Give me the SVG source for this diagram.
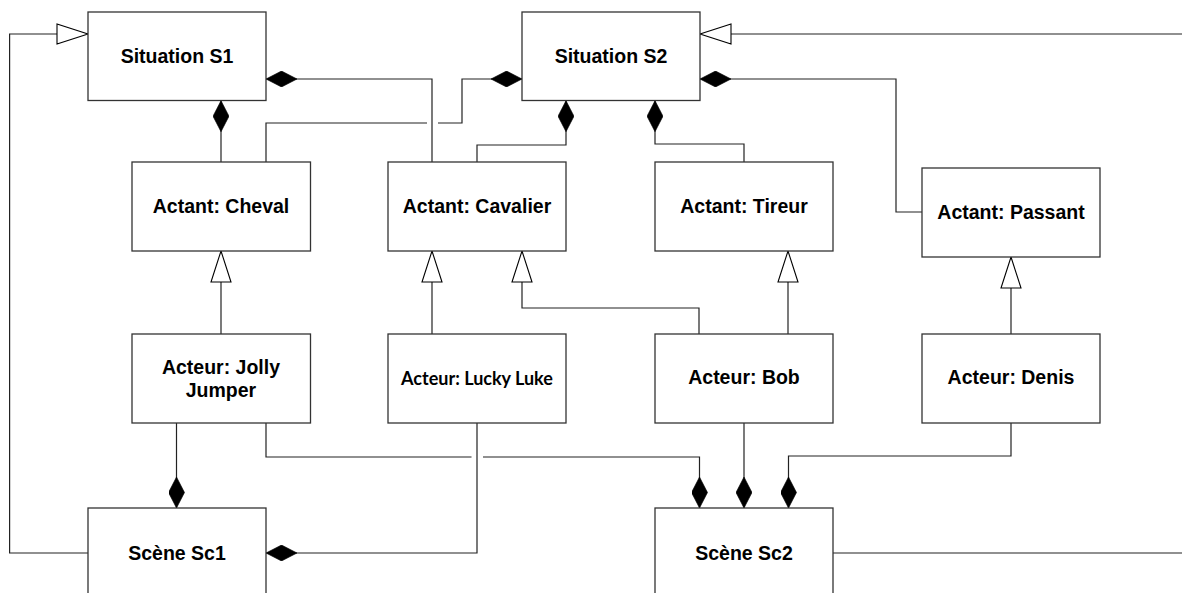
<svg xmlns="http://www.w3.org/2000/svg" width="1182" height="593" viewBox="0 0 1182 593">
<style>
.box{fill:#fff;stroke:#333;stroke-width:1.3}
.lbl{font-family:"Liberation Sans",Arial,sans-serif;font-weight:bold;font-size:19.5px;fill:#000;text-anchor:middle}
.lbl2{font-family:Lato,"Open Sans",sans-serif;font-weight:bold;font-size:18px;fill:#000;text-anchor:middle}
.c{fill:none;stroke:#222;stroke-width:1.2}
.comp{marker-start:url(#diamond)}
.gen{marker-start:url(#tri)}
</style>
<defs>
<marker id="diamond" markerUnits="userSpaceOnUse" viewBox="0 0 31 16" markerWidth="31" markerHeight="16" refX="0" refY="8" orient="auto">
<path d="M0,8 L15.5,0 L31,8 L15.5,16 Z" fill="#000" stroke="#000" stroke-width="0.6"/>
</marker>
<marker id="tri" markerUnits="userSpaceOnUse" viewBox="-1 -1 33 22" markerWidth="33" markerHeight="22" refX="0" refY="10" orient="auto">
<path d="M0,10 L31,0 L31,20 Z" fill="#fff" stroke="#000" stroke-width="1.1"/>
</marker>
</defs>
<rect width="1182" height="593" fill="#fff"/>
<g id="connectors">
<path class="c gen" d="M88,34 L9.6,34 L9.6,553 L88,553"/>
<path class="c comp" d="M266,79 L432,79 L432,162"/>
<path class="c comp" d="M221,100.7 L221,162"/>
<path class="c comp" d="M522,79 L462,79 L462,123 L438,123 M427,123 L266,123 L266,162"/>
<path class="c comp" d="M566,100.7 L566,145 L477,145 L477,162"/>
<path class="c comp" d="M655,100.7 L655,144 L744,144 L744,162"/>
<path class="c comp" d="M700,79 L896,79 L896,212 L922,212"/>
<path class="c gen" d="M700,34 L1182,34"/>
<path class="c gen" d="M221,251 L221,334"/>
<path class="c gen" d="M432,251 L432,334"/>
<path class="c gen" d="M522,251 L522,308 L699,308 L699,334"/>
<path class="c gen" d="M788,251 L788,334"/>
<path class="c gen" d="M1011,257 L1011,334"/>
<path class="c comp" d="M176.5,508 L176.5,423"/>
<path class="c comp" d="M266,553 L477,553 L477,423"/>
<path class="c comp" d="M699.5,508 L699.5,457 L483,457 M471.5,457 L266,457 L266,423"/>
<path class="c comp" d="M744,508 L744,423"/>
<path class="c comp" d="M788.5,508 L788.5,456 L1011,456 L1011,423"/>
<path class="c" d="M833,553 L1182,553"/>
</g>
<g id="S1"><rect class="box" x="88" y="12" width="178" height="88.5"/><text class="lbl" x="177" y="63">Situation S1</text></g>
<g id="S2"><rect class="box" x="522" y="12" width="178" height="88.5"/><text class="lbl" x="611" y="63">Situation S2</text></g>
<g id="Cheval"><rect class="box" x="132" y="162" width="178.5" height="89"/><text class="lbl" x="221" y="213">Actant: Cheval</text></g>
<g id="Cavalier"><rect class="box" x="388" y="162" width="178" height="89"/><text class="lbl" x="477" y="213">Actant: Cavalier</text></g>
<g id="Tireur"><rect class="box" x="655" y="162" width="178" height="89"/><text class="lbl" x="744" y="213">Actant: Tireur</text></g>
<g id="Passant"><rect class="box" x="922" y="168" width="178" height="89"/><text class="lbl" x="1011" y="219">Actant: Passant</text></g>
<g id="JollyJumper"><rect class="box" x="132" y="334" width="178.5" height="89"/><text class="lbl" x="221" y="374">Acteur: Jolly</text><text class="lbl" x="221" y="397">Jumper</text></g>
<g id="LuckyLuke"><rect class="box" x="388" y="334" width="178" height="89"/><text class="lbl2" x="477" y="385">Acteur: Lucky Luke</text></g>
<g id="Bob"><rect class="box" x="655" y="334" width="178" height="89"/><text class="lbl" x="744" y="384">Acteur: Bob</text></g>
<g id="Denis"><rect class="box" x="922" y="334" width="178" height="89"/><text class="lbl" x="1011" y="384">Acteur: Denis</text></g>
<g id="Sc1"><rect class="box" x="88" y="508" width="178" height="92"/><text class="lbl" x="177" y="560">Scène Sc1</text></g>
<g id="Sc2"><rect class="box" x="655" y="508" width="178" height="92"/><text class="lbl" x="744" y="560">Scène Sc2</text></g>
</svg>
